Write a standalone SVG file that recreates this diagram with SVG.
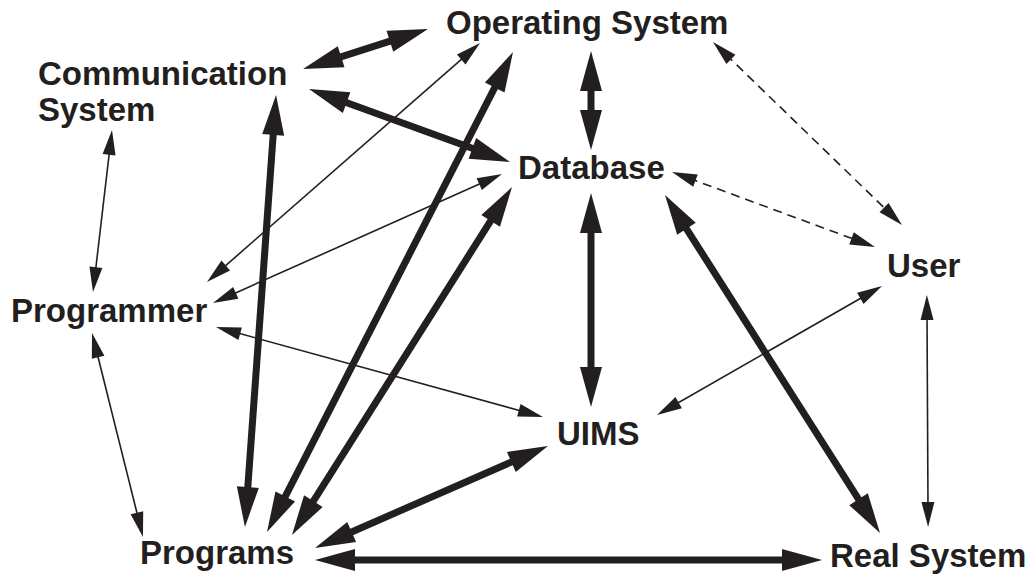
<svg xmlns="http://www.w3.org/2000/svg" width="1032" height="576" viewBox="0 0 1032 576">
<style>
text{font-family:"Liberation Sans",Arial,sans-serif;font-weight:bold;font-size:33px;fill:#231f20}
.h{stroke:#231f20;stroke-width:7;fill:none;marker-start:url(#ah);marker-end:url(#ah)}
.t{stroke:#231f20;stroke-width:1.6;fill:none;marker-start:url(#at);marker-end:url(#at)}
.d{stroke-dasharray:9 6}
</style>
<defs>
<marker id="ah" markerUnits="userSpaceOnUse" orient="auto-start-reverse" refX="0" refY="0" markerWidth="1" markerHeight="1" overflow="visible">
<path d="M-10,-11 L30,0 L-10,11 z" fill="#231f20"/>
</marker>
<marker id="at" markerUnits="userSpaceOnUse" orient="auto-start-reverse" refX="0" refY="0" markerWidth="1" markerHeight="1" overflow="visible">
<path d="M-7,-6.5 L18,0 L-7,6.5 z" fill="#231f20"/>
</marker>
</defs>
<rect width="1032" height="576" fill="#ffffff"/>
<g id="connectors">
<line class="h" x1="331.6" y1="59.9" x2="399.4" y2="38.1"/>
<line class="h" x1="337.2" y1="99.2" x2="481.8" y2="151.8"/>
<line class="h" x1="591" y1="81" x2="591" y2="120"/>
<line class="t d" x1="725.9" y1="54.5" x2="889.1" y2="212.5"/>
<line class="t d" x1="688.9" y1="178.2" x2="858.1" y2="240.8"/>
<line class="h" x1="591" y1="223" x2="591" y2="377"/>
<line class="h" x1="681.1" y1="220.3" x2="863.9" y2="507.7"/>
<line class="t" x1="866.4" y1="295" x2="672.6" y2="406"/>
<line class="t" x1="927" y1="313" x2="928" y2="509"/>
<line class="h" x1="345" y1="560" x2="792" y2="560"/>
<line class="h" x1="342.5" y1="536" x2="520.5" y2="458"/>
<line class="t" x1="233.4" y1="331.8" x2="525.6" y2="412.2"/>
<line class="t" x1="96.4" y1="350.5" x2="138.6" y2="519.5"/>
<line class="t" x1="109.9" y1="147.9" x2="95.1" y2="274.1"/>
<line class="t" x1="220.5" y1="270.1" x2="466.5" y2="54.9"/>
<line class="t" x1="229.4" y1="295.7" x2="485.6" y2="181.3"/>
<line class="h" x1="273.9" y1="124.9" x2="247.1" y2="497.1"/>
<line class="h" x1="499.3" y1="78.7" x2="280.7" y2="505.3"/>
<line class="h" x1="496" y1="212.4" x2="308" y2="509.6"/>
</g>
<g id="operating-system"><text x="446" y="34">Operating System</text></g>
<g id="communication-system"><text x="38" y="85">Communication</text><text x="38" y="121">System</text></g>
<g id="database"><text x="518" y="179">Database</text></g>
<g id="user"><text x="887" y="277">User</text></g>
<g id="programmer"><text x="11" y="322">Programmer</text></g>
<g id="uims"><text x="557" y="445">UIMS</text></g>
<g id="programs"><text x="140" y="564">Programs</text></g>
<g id="real-system"><text x="830" y="567">Real System</text></g>
</svg>
